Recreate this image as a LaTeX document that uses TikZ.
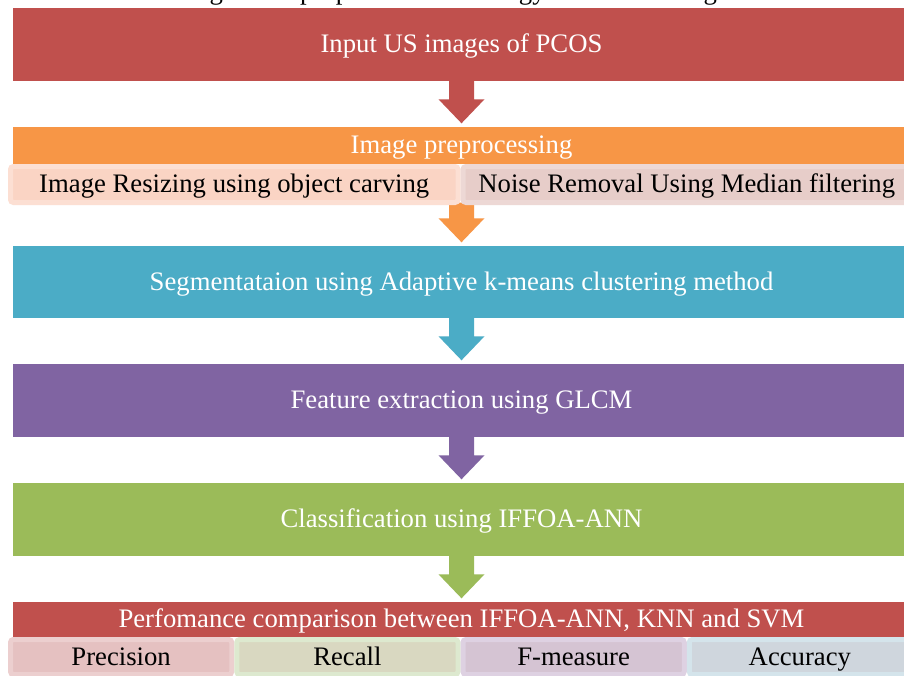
\documentclass[tikz,border=0pt]{standalone}
\usepackage{fontspec}
\setmainfont{Liberation Serif}
\usetikzlibrary{calc}
\definecolor{cred}{HTML}{C0504D}
\definecolor{corange}{HTML}{F79646}
\definecolor{cteal}{HTML}{4BACC6}
\definecolor{cpurple}{HTML}{8064A2}
\definecolor{cgreen}{HTML}{9BBB59}
\definecolor{prefill}{HTML}{FAD4C4}
\definecolor{preline}{HTML}{FCDFD3}
\definecolor{nrfill}{HTML}{E7CDC9}
\definecolor{nrline}{HTML}{EDD8D5}
\definecolor{pfill}{HTML}{E5C1C1}
\definecolor{pline}{HTML}{ECCFCF}
\definecolor{rfill}{HTML}{D9D8C1}
\definecolor{rline}{HTML}{DDE9CF}
\definecolor{ffill}{HTML}{D5C4D3}
\definecolor{fline}{HTML}{DED1E2}
\definecolor{afill}{HTML}{CFD6DD}
\definecolor{aline}{HTML}{D4E4EB}
\tikzset{
  txt/.style={font=\fontsize{26.7}{30}\selectfont, inner sep=0pt, text height=18pt, text depth=2pt},
  bar/.style={txt, fill=#1, draw=none, minimum width=897pt, text=white},
  subbox/.style 2 args={txt, fill=#1, draw=#2, line width=5pt, rounded corners=3pt, text=black},
}
\newcommand\blockarrow[3]{%
  \fill[#3] let \p1=(#1), \p2=(#2.north) in
    (\x1-12.5pt,\y1) -- (\x1+12.5pt,\y1) -- (\x1+12.5pt,\y2+27.5pt) --
    (\x1+23pt,\y2+27.5pt) -- (\x1,\y2+3.5pt) -- (\x1-23pt,\y2+27.5pt) --
    (\x1-12.5pt,\y2+27.5pt) -- cycle;}
\begin{document}
\begin{tikzpicture}[x=1pt,y=-1pt]
\path[use as bounding box] (0,0) rectangle (904,675);
\clip (0,0) rectangle (904,675);
\fill[white] (0,0) rectangle (904,675);
% cut-off caption (only descenders visible)
\node[txt, anchor=base west, text=black] (cap) at (59,-1) {Schematic diagram of proposed methodology for PCOS image classification};
% bars
\node[bar=cred, minimum height=73pt] (b1) at (461.5,44.5) {Input US images of PCOS};
\node[bar=corange, minimum height=37pt] (b2) at (461.5,145.5) {Image preprocessing};
\node[bar=cteal, minimum height=72pt] (b3) at (461.5,282) {Segmentataion using Adaptive k-means clustering method};
\node[bar=cpurple, minimum height=73pt] (b4) at (461.5,400.5) {Feature extraction using GLCM};
\node[bar=cgreen, minimum height=73pt] (b5) at (461.5,519.5) {Classification using IFFOA-ANN};
\node[bar=cred, minimum height=35pt] (b6) at (461.5,619.5) {Perfomance comparison between IFFOA-ANN, KNN and SVM};
% arrows
\coordinate (a1) at (b1.south);
\coordinate (a2) at (b2.south |- 0,202.5);
\coordinate (a3) at (b3.south);
\coordinate (a4) at (b4.south);
\coordinate (a5) at (b5.south);
\blockarrow{a1}{b2}{cred}
\blockarrow{a2}{b3}{corange}
\blockarrow{a3}{b4}{cteal}
\blockarrow{a4}{b5}{cpurple}
\blockarrow{a5}{b6}{cgreen}
% preprocessing sub boxes
\node[subbox={prefill}{preline}, minimum width=447.5pt, minimum height=36pt] (s1) at (234.25,184.5) {Image Resizing using object carving};
\node[subbox={nrfill}{nrline}, minimum width=447.5pt, minimum height=36pt] (s2) at (686.75,184.5) {Noise Removal Using Median filtering};
% metric sub boxes
\node[subbox={pfill}{pline}, minimum width=221.25pt, minimum height=35pt] (m1) at (121.125,657) {Precision};
\node[subbox={rfill}{rline}, minimum width=221.25pt, minimum height=35pt] (m2) at (347.375,657) {Recall};
\node[subbox={ffill}{fline}, minimum width=221.25pt, minimum height=35pt] (m3) at (573.625,657) {F-measure};
\node[subbox={afill}{aline}, minimum width=221.25pt, minimum height=35pt] (m4) at (799.875,657) {Accuracy};
\end{tikzpicture}
\end{document}
